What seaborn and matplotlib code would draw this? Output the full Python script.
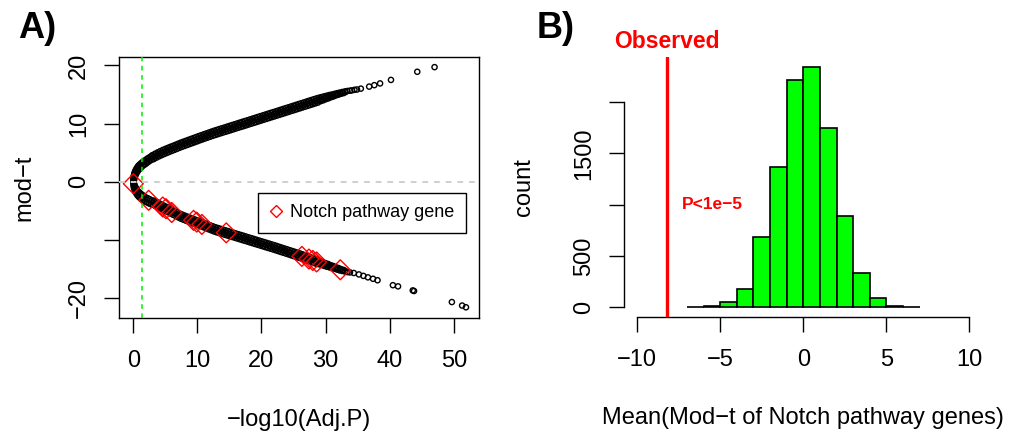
import matplotlib
matplotlib.use("Agg")
import matplotlib.pyplot as plt
from matplotlib.lines import Line2D
import numpy as np
import pandas as pd
import seaborn as sns

# ---------------------------------------------------------------------------
# Panel A: moderated t statistic vs -log10(adjusted p) for all genes
# ---------------------------------------------------------------------------
# up-regulated genes (outer edge of the band, inner edge, middle, then tail)
up_logp = [
    0.0, 0.0, 0.03, 0.08, 0.15, 0.22, 0.32, 0.42, 0.55, 0.7, 0.85, 1.0, 1.2,
    1.4, 1.6, 1.8, 2.05, 2.3, 2.55, 2.8,
    3.0, 3.4, 3.8, 4.2, 4.6, 5.0, 5.4, 5.8, 6.2, 6.6, 7.0, 7.4, 7.8, 8.2, 8.6,
    9.0, 9.4, 9.8, 10.2, 10.6, 11.0, 11.4, 11.8, 12.2, 12.6, 13.0, 13.4, 13.8,
    14.2, 14.6, 15.0, 15.4, 15.8, 16.2, 16.6, 17.0, 17.4, 17.8, 18.2, 18.6,
    19.0, 19.4, 19.8, 20.2, 20.6, 21.0, 21.4, 21.8, 22.2, 22.6, 23.0, 23.4,
    23.8, 24.2, 24.6, 25.0, 25.4, 25.8, 26.2, 26.6, 27.0, 27.4, 27.8, 28.2,
    28.6, 29.0, 29.4, 29.8, 30.2, 30.6, 31.0, 31.4, 31.8, 32.2, 32.6, 33.0, 33.4,
    0.1, 0.18, 0.27, 0.38, 0.5, 0.63, 0.78, 0.95, 1.12, 1.3, 1.5, 1.7, 1.92,
    2.15, 2.4, 2.65, 2.9,
    3.2, 3.6, 4.0, 4.4, 4.8, 5.2, 5.6, 6.0, 6.4, 6.8, 7.2, 7.6, 8.0, 8.4, 8.8,
    9.2, 9.6, 10.0, 10.4, 10.8, 11.2, 11.6, 12.0, 12.4, 12.8, 13.2, 13.6, 14.0,
    14.4, 14.8, 15.2, 15.6, 16.0, 16.4, 16.8, 17.2, 17.6, 18.0, 18.4, 18.8,
    19.2, 19.6, 20.0, 20.4, 20.8, 21.2, 21.6, 22.0, 22.4, 22.8, 23.2, 23.6,
    24.0, 24.4, 24.8, 25.2, 25.6, 26.0, 26.4, 26.8, 27.2, 27.6, 28.0, 28.4,
    28.8, 29.2, 29.6, 30.0, 30.4, 30.8, 31.2, 31.6, 32.0, 32.4, 32.8,
    3.1, 3.5, 3.9, 4.3, 4.7, 5.1, 5.5, 5.9, 6.3, 6.7, 7.1, 7.5, 7.9, 8.3, 8.7,
    9.1, 9.5, 9.9, 10.3, 10.7, 11.1, 11.5, 11.9, 12.3, 12.7, 13.1, 13.5, 13.9,
    14.3, 14.7, 15.1, 15.5, 15.9, 16.3, 16.7, 17.1, 17.5, 17.9, 18.3, 18.7,
    19.1, 19.5, 19.9, 20.3, 20.7, 21.1, 21.5, 21.9, 22.3, 22.7, 23.1, 23.5,
    23.9, 24.3, 24.7, 25.1, 25.5, 25.9, 26.3, 26.7, 27.1, 27.5, 27.9, 28.3,
    28.7, 29.1, 29.5, 29.9, 30.3, 30.7, 31.1, 31.5, 31.9, 32.3, 32.7, 33.1,
    33.8, 34.1, 34.5, 34.9, 35.5, 36.8, 37.6, 38.5, 40.2, 44.3, 47.0,
]
up_t = [
    0.0, 0.45, 0.75, 1.05, 1.35, 1.6, 1.85, 2.1, 2.35, 2.6, 2.8, 2.95, 3.15,
    3.35, 3.5, 3.65, 3.85, 4.05, 4.2, 4.4,
    4.57, 4.81, 5.04, 5.25, 5.45, 5.64, 5.82, 6.00, 6.17, 6.35, 6.53, 6.71,
    6.87, 7.03, 7.19, 7.35, 7.51, 7.67, 7.84, 7.99, 8.15, 8.30, 8.45, 8.61,
    8.76, 8.90, 9.04, 9.18, 9.31, 9.45, 9.59, 9.73, 9.87, 10.01, 10.15, 10.29,
    10.42, 10.56, 10.70, 10.84, 10.98, 11.12, 11.26, 11.40, 11.54, 11.68,
    11.82, 11.95, 12.09, 12.23, 12.37, 12.51, 12.65, 12.79, 12.93, 13.07,
    13.21, 13.35, 13.49, 13.63, 13.77, 13.91, 14.05, 14.19, 14.33, 14.45,
    14.56, 14.68, 14.79, 14.90, 15.00, 15.10, 15.22, 15.32, 15.42, 15.52, 15.60,
    0.2, 0.55, 0.9, 1.2, 1.45, 1.7, 1.95, 2.15, 2.35, 2.55, 2.75, 2.9, 3.05,
    3.25, 3.45, 3.65, 3.8,
    3.89, 4.13, 4.35, 4.55, 4.75, 4.93, 5.11, 5.29, 5.46, 5.64, 5.82, 5.99,
    6.15, 6.31, 6.47, 6.63, 6.79, 6.95, 7.12, 7.27, 7.43, 7.58, 7.73, 7.89,
    8.03, 8.17, 8.31, 8.45, 8.58, 8.72, 8.86, 9.00, 9.14, 9.28, 9.42, 9.55,
    9.69, 9.83, 9.97, 10.11, 10.25, 10.39, 10.53, 10.67, 10.81, 10.95, 11.09,
    11.22, 11.36, 11.50, 11.64, 11.78, 11.92, 12.06, 12.20, 12.34, 12.48,
    12.62, 12.76, 12.90, 13.04, 13.18, 13.32, 13.46, 13.60, 13.84, 13.98,
    14.17, 14.31, 14.50, 14.64, 14.83, 14.96, 15.12, 15.23,
    4.23, 4.47, 4.70, 4.90, 5.10, 5.29, 5.47, 5.64, 5.82, 6.00, 6.18, 6.35,
    6.51, 6.67, 6.83, 6.99, 7.15, 7.31, 7.48, 7.63, 7.79, 7.94, 8.09, 8.25,
    8.40, 8.54, 8.68, 8.81, 8.95, 9.09, 9.22, 9.36, 9.50, 9.64, 9.78, 9.92,
    10.06, 10.20, 10.34, 10.48, 10.62, 10.75, 10.89, 11.03, 11.17, 11.31,
    11.45, 11.59, 11.72, 11.86, 12.00, 12.14, 12.28, 12.42, 12.56, 12.70,
    12.84, 12.98, 13.12, 13.26, 13.40, 13.54, 13.68, 13.82, 13.96, 14.10,
    14.24, 14.38, 14.52, 14.66, 14.80, 14.94, 15.07, 15.18, 15.30, 15.41,
    15.65, 15.7, 15.8, 15.85, 16.0, 16.35, 16.6, 16.9, 17.5, 18.9, 19.7,
]

# down-regulated genes (outer edge, inner edge, middle, tail)
down_logp = [
    0.0, 0.03, 0.1, 0.2, 0.32, 0.47, 0.65, 0.85, 1.05, 1.3, 1.55, 1.8, 2.1,
    2.4, 2.7,
    3.0, 3.4, 3.8, 4.2, 4.6, 5.0, 5.4, 5.8, 6.2, 6.6, 7.0, 7.4, 7.8, 8.2, 8.6,
    9.0, 9.4, 9.8, 10.2, 10.6, 11.0, 11.4, 11.8, 12.2, 12.6, 13.0, 13.4, 13.8,
    14.2, 14.6, 15.0, 15.4, 15.8, 16.2, 16.6, 17.0, 17.4, 17.8, 18.2, 18.6,
    19.0, 19.4, 19.8, 20.2, 20.6, 21.0, 21.4, 21.8, 22.2, 22.6, 23.0, 23.4,
    23.8, 24.2, 24.6, 25.0, 25.4, 25.8, 26.2, 26.6, 27.0, 27.4, 27.8, 28.2,
    28.6, 29.0, 29.4, 29.8, 30.2, 30.6, 31.0, 31.4, 31.8, 32.2, 32.6, 33.0, 33.4,
    0.08, 0.18, 0.3, 0.45, 0.6, 0.8, 1.0, 1.2, 1.45, 1.7, 1.95, 2.25, 2.55, 2.85,
    3.2, 3.6, 4.0, 4.4, 4.8, 5.2, 5.6, 6.0, 6.4, 6.8, 7.2, 7.6, 8.0, 8.4, 8.8,
    9.2, 9.6, 10.0, 10.4, 10.8, 11.2, 11.6, 12.0, 12.4, 12.8, 13.2, 13.6, 14.0,
    14.4, 14.8, 15.2, 15.6, 16.0, 16.4, 16.8, 17.2, 17.6, 18.0, 18.4, 18.8,
    19.2, 19.6, 20.0, 20.4, 20.8, 21.2, 21.6, 22.0, 22.4, 22.8, 23.2, 23.6,
    24.0, 24.4, 24.8, 25.2, 25.6, 26.0, 26.4, 26.8, 27.2, 27.6, 28.0, 28.4,
    28.8, 29.2, 29.6, 30.0, 30.4, 30.8, 31.2, 31.6, 32.0, 32.4, 32.8,
    3.1, 3.5, 3.9, 4.3, 4.7, 5.1, 5.5, 5.9, 6.3, 6.7, 7.1, 7.5, 7.9, 8.3, 8.7,
    9.1, 9.5, 9.9, 10.3, 10.7, 11.1, 11.5, 11.9, 12.3, 12.7, 13.1, 13.5, 13.9,
    14.3, 14.7, 15.1, 15.5, 15.9, 16.3, 16.7, 17.1, 17.5, 17.9, 18.3, 18.7,
    19.1, 19.5, 19.9, 20.3, 20.7, 21.1, 21.5, 21.9, 22.3, 22.7, 23.1, 23.5,
    23.9, 24.3, 24.7, 25.1, 25.5, 25.9, 26.3, 26.7, 27.1, 27.5, 27.9, 28.3,
    28.7, 29.1, 29.5, 29.9, 30.3, 30.7, 31.1, 31.5, 31.9, 32.3, 32.7, 33.1,
    33.8, 34.4, 35.2, 35.9, 36.6, 37.4, 38.1, 40.5, 41.3, 43.6, 43.8, 49.7,
    51.3, 51.9,
]
down_t = [
    -0.3, -0.7, -1.05, -1.4, -1.75, -2.05, -2.35, -2.6, -2.8, -3.0, -3.2,
    -3.4, -3.55, -3.7, -3.85,
    -3.97, -4.15, -4.37, -4.59, -4.81, -5.03, -5.25, -5.47, -5.69, -5.91,
    -6.13, -6.35, -6.53, -6.70, -6.87, -7.04, -7.21, -7.37, -7.53, -7.69,
    -7.86, -8.03, -8.21, -8.38, -8.56, -8.70, -8.83, -8.97, -9.10, -9.23,
    -9.37, -9.50, -9.63, -9.77, -9.90, -10.03, -10.17, -10.30, -10.44, -10.57,
    -10.71, -10.84, -10.98, -11.11, -11.25, -11.38, -11.52, -11.65, -11.79,
    -11.93, -12.08, -12.22, -12.36, -12.50, -12.65, -12.79, -12.93, -13.07,
    -13.21, -13.37, -13.52, -13.68, -13.84, -13.99, -14.15, -14.20, -14.34,
    -14.49, -14.63, -14.73, -14.88, -14.97, -15.12, -15.26, -15.35, -15.45,
    -15.55,
    -0.2, -0.5, -0.85, -1.15, -1.45, -1.7, -1.9, -2.1, -2.3, -2.5, -2.7,
    -2.85, -3.0, -3.2,
    -3.26, -3.46, -3.68, -3.90, -4.12, -4.34, -4.56, -4.78, -5.00, -5.22,
    -5.44, -5.64, -5.82, -5.99, -6.16, -6.33, -6.49, -6.65, -6.81, -6.98,
    -7.15, -7.32, -7.50, -7.67, -7.83, -7.97, -8.10, -8.24, -8.37, -8.50,
    -8.64, -8.77, -8.90, -9.04, -9.17, -9.30, -9.44, -9.57, -9.71, -9.84,
    -9.98, -10.11, -10.25, -10.38, -10.52, -10.65, -10.79, -10.92, -11.06,
    -11.21, -11.35, -11.49, -11.63, -11.78, -11.92, -12.06, -12.20, -12.34,
    -12.49, -12.65, -12.80, -12.96, -13.12, -13.27, -13.43, -13.67, -13.82,
    -14.01, -14.16, -14.36, -14.50, -14.70, -14.84, -15.03, -15.17,
    -3.61, -3.80, -4.02, -4.24, -4.46, -4.68, -4.90, -5.12, -5.34, -5.56,
    -5.78, -6.00, -6.17, -6.34, -6.51, -6.68, -6.85, -7.01, -7.17, -7.33,
    -7.50, -7.67, -7.85, -8.02, -8.20, -8.33, -8.47, -8.60, -8.73, -8.87,
    -9.00, -9.13, -9.27, -9.40, -9.53, -9.67, -9.80, -9.94, -10.07, -10.21,
    -10.34, -10.48, -10.61, -10.75, -10.88, -11.02, -11.15, -11.29, -11.43,
    -11.57, -11.71, -11.85, -12.00, -12.14, -12.28, -12.42, -12.56, -12.71,
    -12.85, -13.01, -13.16, -13.32, -13.48, -13.63, -13.79, -13.93, -14.08,
    -14.22, -14.37, -14.52, -14.66, -14.81, -14.95, -15.09, -15.23, -15.36,
    -15.6, -15.7, -15.95, -16.2, -16.45, -16.7, -16.95, -17.8, -18.0, -18.7,
    -18.8, -20.7, -21.3, -21.6,
]

# Notch pathway genes
notch_logp = [0.0, 2.4, 4.6, 5.1, 6.0, 9.4, 9.9, 10.7, 14.5, 26.3, 27.4, 28.0,
              28.6, 32.3]
notch_t = [-0.35, -3.2, -4.35, -4.65, -5.3, -6.65, -6.95, -7.35, -8.8, -12.85,
           -13.3, -13.55, -13.8, -15.15]

adj_p_cutoff = 0.05

# ---------------------------------------------------------------------------
# Panel B: permutation distribution of the mean mod-t of random gene sets
# ---------------------------------------------------------------------------
bin_edges = [-7, -6, -5, -4, -3, -2, -1, 0, 1, 2, 3, 4, 5, 6, 7]
bin_counts = [2, 13, 55, 179, 690, 1368, 2212, 2345, 1746, 886, 339, 88, 16, 3]
observed_mean = -8.2
p_label = "P<1e\u22125"

# ---------------------------------------------------------------------------
sns.set_style("ticks")
plt.rcParams["font.family"] = ["Liberation Sans", "DejaVu Sans"]
plt.rcParams["axes.unicode_minus"] = True
for key in ("text.color", "axes.labelcolor", "xtick.color", "ytick.color",
            "axes.edgecolor"):
    plt.rcParams[key] = "black"

FS = 17
RED = "#ff0000"
W, H = 1011, 437
fig = plt.figure(figsize=(W / 100, H / 100), dpi=100)


def px_axes(left, top, right, bottom):
    return fig.add_axes([left / W, 1 - bottom / H, (right - left) / W,
                         (bottom - top) / H])


def style_ticks(ax):
    ax.tick_params(axis="both", direction="out", length=10.8, width=1.0,
                   colors="black", labelsize=FS)
    ax.tick_params(axis="x", pad=12.5)
    ax.tick_params(axis="y", pad=10)


# ---------------- Panel A ----------------
axA = px_axes(119, 57.3, 479.3, 317.7)

genes = pd.DataFrame({
    "logp": up_logp + down_logp,
    "t": up_t + down_t,
})
notch = pd.DataFrame({"logp": notch_logp, "t": notch_t})

sns.scatterplot(data=genes, x="logp", y="t", ax=axA, marker="o", s=14,
                color="black", facecolor="none", edgecolor="black",
                linewidth=1.0, legend=False, zorder=2)
sns.scatterplot(data=notch, x="logp", y="t", ax=axA, marker="D", s=102,
                color=RED, facecolor="none", edgecolor=RED,
                linewidth=1.0, legend=False, zorder=3)

axA.axhline(0, color="#cfcfcf", lw=1.4, ls=(0, (3, 3)), zorder=4)
axA.axvline(-np.log10(adj_p_cutoff), color="#00ee00", lw=1.1,
            ls=(0, (3, 3)), zorder=4)

axA.set_xlim(-2.23, 53.98)
axA.set_ylim(-23.39, 21.39)
axA.set_xticks([0, 10, 20, 30, 40, 50])
axA.set_xticklabels(["0", "10", "20", "30", "40", "50"])
axA.set_yticks([-20, -10, 0, 10, 20])
axA.set_yticklabels(["\u221220", "", "0", "10", "20"], rotation=90,
                    va="center")
style_ticks(axA)
for s in axA.spines.values():
    s.set_color("black")
    s.set_linewidth(1.0)

axA.set_xlabel("\u2212log10(Adj.P)", fontsize=FS, va="center")
axA.xaxis.set_label_coords(0.5, -(420 - 317.7) / 260.4)
axA.set_ylabel("mod\u2212t", fontsize=FS, va="center", ha="center")
axA.yaxis.set_label_coords((24 - 119) / 360.3, 0.5)

handle = Line2D([], [], marker="D", ls="none", mfc="none", mec=RED, ms=5.8,
                mew=1.0)
leg = axA.legend([handle], ["Notch pathway gene"], loc="upper right",
                 bbox_to_anchor=(0.962, 0.478), borderaxespad=0,
                 frameon=True, fancybox=False, framealpha=1,
                 edgecolor="black", fontsize=13, handlelength=0.7,
                 handletextpad=0.45, borderpad=0.62)
leg.get_frame().set_linewidth(1.0)
leg.set_zorder(6)

# ---------------- Panel B ----------------
axB = px_axes(624, 57, 982.6, 317)
centers = [(a + b) / 2 for a, b in zip(bin_edges[:-1], bin_edges[1:])]
sns.histplot(x=centers, weights=bin_counts, bins=bin_edges, ax=axB,
             color="#00ff00", edgecolor="black", linewidth=1.2, alpha=1,
             zorder=2)
axB.axvline(observed_mean, color=RED, lw=2.4, zorder=3)

axB.set_xlim(-10.8, 10.8)
axB.set_ylim(-0.04 * max(bin_counts), 1.04 * max(bin_counts))
axB.set_xticks([-10, -5, 0, 5, 10])
axB.set_xticklabels(["\u221210", "\u22125", "0", "5", "10"])
axB.set_yticks([0, 500, 1000, 1500, 2000])
axB.set_yticklabels(["0", "500", "", "1500", ""], rotation=90, va="center")
style_ticks(axB)
for side in ("top", "right"):
    axB.spines[side].set_visible(False)
axB.spines["left"].set_bounds(0, 2000)
axB.spines["bottom"].set_bounds(-10, 10)
for side in ("left", "bottom"):
    axB.spines[side].set_color("black")
    axB.spines[side].set_linewidth(1.0)

axB.set_xlabel("Mean(Mod\u2212t of Notch pathway genes)", fontsize=FS,
               va="center")
axB.xaxis.set_label_coords(0.5, -(418 - 317) / 260)
axB.set_ylabel("count", fontsize=FS, va="center", ha="center")
axB.yaxis.set_label_coords((524 - 624) / 358.6, 0.5)

axB.text(observed_mean, (317 - 41.5) / 260, "Observed", color=RED,
         fontsize=16.5, fontweight="bold", ha="center", va="center",
         transform=axB.get_xaxis_transform(), clip_on=False)
axB.text(-5.5, 1000, p_label, color=RED, fontsize=12.5, fontweight="bold",
         ha="center", va="center")

# panel letters
fig.text(18 / W, 1 - 28.5 / H, "A)", fontsize=26, fontweight="bold",
         ha="left", va="center")
fig.text(537 / W, 1 - 28.5 / H, "B)", fontsize=26, fontweight="bold",
         ha="left", va="center")

fig.savefig("out.png", dpi=100, facecolor="white")
